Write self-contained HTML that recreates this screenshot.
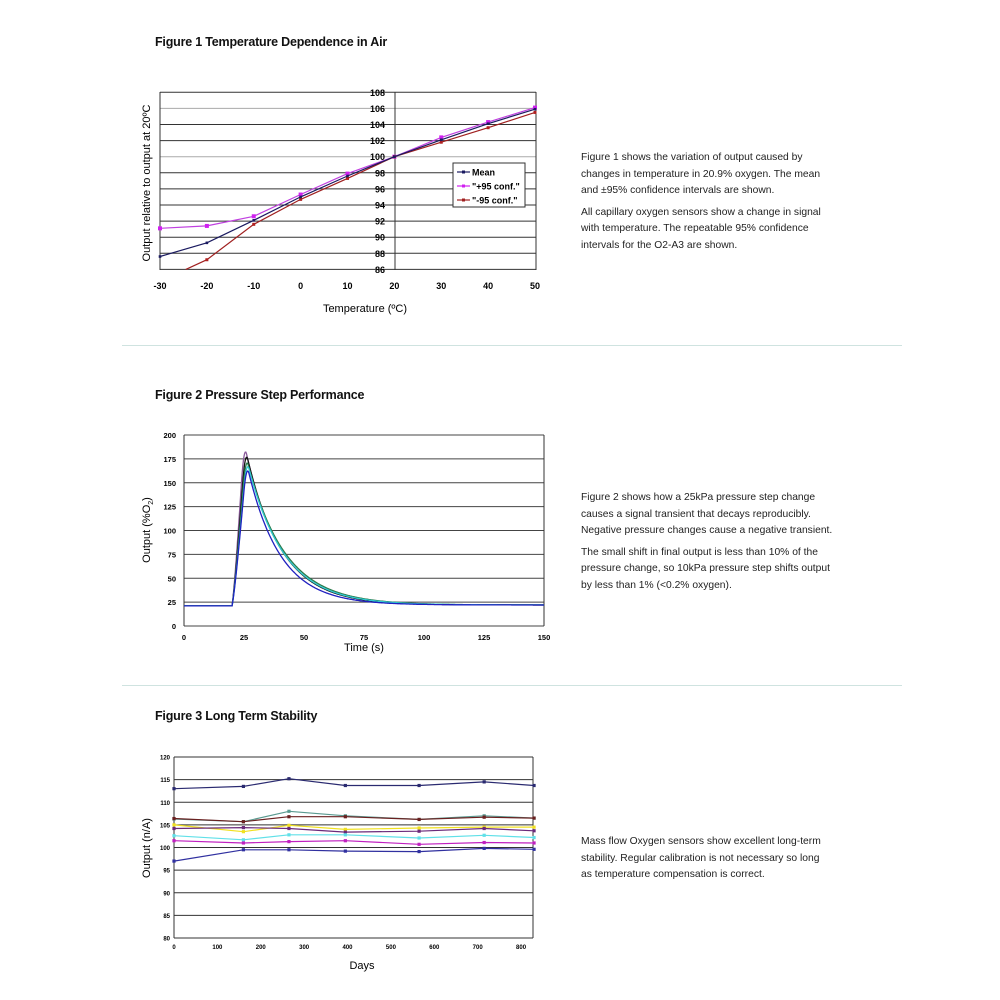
<!DOCTYPE html>
<html><head><meta charset="utf-8"><style>
body{margin:0;background:#fff;width:1000px;height:1000px;position:relative;overflow:hidden;font-family:"Liberation Sans",sans-serif;color:#111}
.t{position:absolute;left:155px;font-weight:bold;font-size:12.5px;letter-spacing:-0.2px}
.p{position:absolute;left:581px;font-size:10.3px;line-height:16.5px;color:#222}
.p div{margin-bottom:5px}
.sep{position:absolute;left:122px;width:780px;height:1px;background:#cfe3e0}
svg{position:absolute;left:0;top:0}
</style></head><body>
<div class="t" style="top:35px">Figure 1 Temperature Dependence in Air</div>
<div class="t" style="top:388px">Figure 2 Pressure Step Performance</div>
<div class="t" style="top:709px">Figure 3 Long Term Stability</div>
<div class="sep" style="top:345px"></div>
<div class="sep" style="top:685px"></div>
<div class="p" style="top:150px"><div>Figure 1 shows the variation of output caused by<br>changes in temperature in 20.9% oxygen. The mean<br>and ±95% confidence intervals are shown.</div><div>All capillary oxygen sensors show a change in signal<br>with temperature. The repeatable 95% confidence<br>intervals for the O2-A3 are shown.</div></div>
<div class="p" style="top:490px"><div>Figure 2 shows how a 25kPa pressure step change<br>causes a signal transient that decays reproducibly.<br>Negative pressure changes cause a negative transient.</div><div>The small shift in final output is less than 10% of the<br>pressure change, so 10kPa pressure step shifts output<br>by less than 1% (&lt;0.2% oxygen).</div></div>
<div class="p" style="top:834px"><div>Mass flow Oxygen sensors show excellent long-term<br>stability. Regular calibration is not necessary so long<br>as temperature compensation is correct.</div></div>
<svg id="s" width="1000" height="1000" xmlns="http://www.w3.org/2000/svg" font-family="Liberation Sans, sans-serif"></svg>
<script>
var s=document.getElementById('s'),h='';
function L(x1,y1,x2,y2,c,w){h+='<line x1="'+x1+'" y1="'+y1+'" x2="'+x2+'" y2="'+y2+'" stroke="'+c+'" stroke-width="'+(w||1)+'"/>';}
function T(x,y,t,sz,a,b,extra){h+='<text x="'+x+'" y="'+y+'" font-size="'+sz+'" text-anchor="'+(a||'middle')+'"'+(b?' font-weight="bold"':'')+(extra||'')+'>'+t+'</text>';}
function P(pts,c,w){h+='<polyline fill="none" stroke="'+c+'" stroke-width="'+(w||1)+'" points="'+pts.map(p=>p[0].toFixed(1)+','+p[1].toFixed(1)).join(' ')+'"/>';}
function M(pts,c,r){pts.forEach(p=>{h+='<rect x="'+(p[0]-r)+'" y="'+(p[1]-r)+'" width="'+2*r+'" height="'+2*r+'" fill="'+c+'"/>';});}
// Fig1
var fx=t=>160+(t+30)*4.6875, fy=v=>92.3+(108-v)*8.05;
for(var v=86;v<=108;v+=2){L(160,fy(v),536,fy(v),(v==100||v==106)?'#aaa':'#333',1);T(385,fy(v)+3.5,v,9,'end',1);}
L(160,92,160,270,'#333');L(536,92,536,270,'#333');L(395,92,395,270,'#333');
for(var t=-30;t<=50;t+=10)T(fx(t),289,t,9,'middle',1);
T(365,312,'Temperature (ºC)',11,'middle',0);
T(0,0,'Output relative to output at 20ºC',11,'middle',0,' transform="translate(150,183) rotate(-90)"');
var ts=[-30,-20,-10,0,10,20,30,40,50];
var mean=[87.6,89.3,92.1,95,97.6,100,102.1,104.1,105.9].map((v,i)=>[fx(ts[i]),fy(v)]);
var pl=[91.1,91.4,92.6,95.3,97.9,100,102.4,104.3,106.1].map((v,i)=>[fx(ts[i]),fy(v)]);
var mi=[87.2,91.6,94.7,97.3,100,101.8,103.6,105.5].map((v,i)=>[fx(ts[i+1]),fy(v)]);
P(pl,'#c040e0',1.2);M(pl,'#d020f0',2);
P([[fx(-24.5),fy(86)]].concat(mi),'#a02020',1.2);M(mi,'#b02020',1.5);
P(mean,'#1a1a60',1.2);M(mean,'#1a1a60',1.3);
h+='<rect x="453" y="163" width="72" height="44" fill="#fff" stroke="#333"/>';
[['Mean','#1a1a60'],['"+95 conf."','#d020f0'],['"-95 conf."','#a02020']].forEach((e,i)=>{var y=172+i*14;L(457,y,470,y,e[1],1.2);h+='<rect x="462" y="'+(y-1.5)+'" width="3" height="3" fill="'+e[1]+'"/>';T(472,y+3.5,e[0],9,'start',1);});
// Fig2
var gx=t=>184+t*2.4, gy=v=>626-v*0.955;
for(var v=0;v<=200;v+=25){L(184,gy(v),544,gy(v),'#444');T(176,gy(v)+3,v,7.5,'end',1);}
L(184,435,184,626,'#333');L(544,435,544,626,'#333');
for(var t=0;t<=150;t+=25)T(gx(t),640,t,7.5,'middle',1);
T(364,651,'Time (s)',11,'middle',0);
T(0,0,'Output (%O<tspan font-size="7" dy="3">2</tspan><tspan dy="-3">)</tspan>',11,'middle',0,' transform="translate(150,530) rotate(-90)"');
[[192,14.5,'#8a5a9a',25],[186,14.5,'#111',25.5],[179,15.5,'#2a7a4a',25.7],[175,15,'#30c8d0',26],[171,13.5,'#2020c0',26]].forEach(c=>{var raw=[];for(var t=0;t<=150;t+=0.25){var v;if(t<=20)v=21;else if(t<=c[3]){var f=(t-20)/(c[3]-20);v=21+(c[0]-21)*f**1.2;}else v=22+(c[0]-22)*Math.exp(-(t-c[3])/c[1]);raw.push([t,v]);}
var pts=raw.map((p,i)=>{var w=p[0]>22&&p[0]<30?4:0,s=0,n=0;for(var k=-w;k<=w;k++){var q=raw[Math.min(raw.length-1,Math.max(0,i+k))];s+=q[1];n++;}return [gx(p[0]),gy(s/n)];});P(pts,c[2],1.3);});
// Fig3
var kx=d=>174+d*0.4338, ky=v=>757+(120-v)*4.525;
for(var v=80;v<=120;v+=5){L(174,ky(v),533,ky(v),'#333');T(170,ky(v)+2.5,v,6,'end',1);}
L(174,757,174,938,'#333');L(533,757,533,938,'#333');
for(var d=0;d<=800;d+=100)T(kx(d),949,d,6,'middle',1);
T(362,969,'Days',11,'middle',0);
T(0,0,'Output (n/A)',11,'middle',0,' transform="translate(150,848) rotate(-90)"');
var ds=[0,160,265,395,565,715,830];
[[[113,113.5,115.2,113.7,113.7,114.5,113.7],'#2a2a70'],[[106.3,105.7,108,107,106.2,107,106.5],'#5a9a90'],[[106.4,105.7,106.8,106.8,106.2,106.7,106.5],'#6a2020'],[[105,103.5,104.9,104,104.3,104.5,104.5],'#f0e020'],[[104.2,104.4,104.2,103.4,103.6,104.2,103.7],'#6a2a7a'],[[102.6,101.7,102.8,102.8,102.1,102.7,102.2],'#60e0e8'],[[101.5,101,101.3,101.5,100.7,101.1,101],'#c020c0'],[[97,99.5,99.5,99.2,99.1,99.8,99.6],'#3030a0']].forEach(s=>{var pts=s[0].map((v,i)=>[kx(ds[i]),ky(v)]);P(pts,s[1],1.2);M(pts,s[1],1.6);});
s.innerHTML=h;
</script>
</body></html>
